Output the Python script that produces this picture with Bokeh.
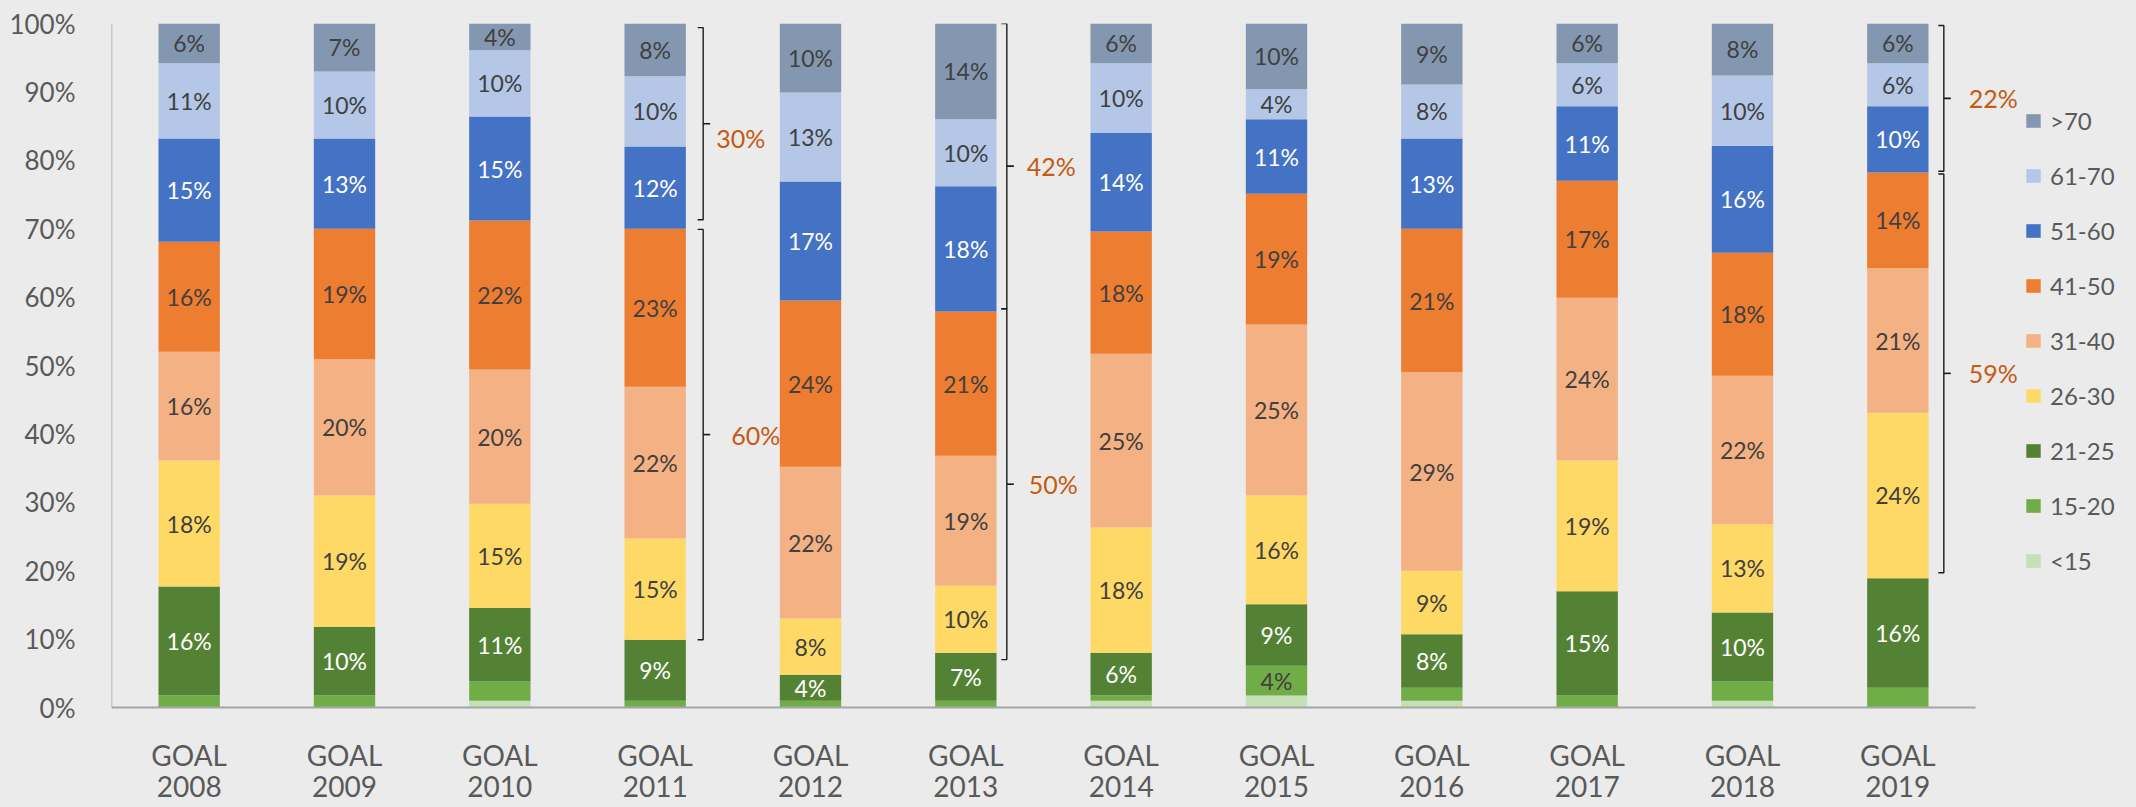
import numpy as np
from bokeh.plotting import figure
from bokeh.models import ColumnDataSource, FixedTicker, Legend, LegendItem, Range1d
from bokeh.embed import file_html
from bokeh.resources import INLINE
from bokeh.core.properties import value

# ---------------- data ----------------
years = ["2008", "2009", "2010", "2011", "2012", "2013",
         "2014", "2015", "2016", "2017", "2018", "2019"]
tick_prefix = "GOAL"
age_groups = ["<15", "15-20", "21-25", "26-30", "31-40", "41-50", "51-60", "61-70", ">70"]

share_lt15 = [0.0, 0.0, 1.0, 0.0, 0.0, 0.0, 1.0, 1.75, 1.0, 0.0, 1.0, 0.0]
share_15_20 = [1.8, 1.8, 2.8, 1.0, 1.0, 1.0, 0.8, 4.35, 1.9, 1.75, 2.8, 2.9]
share_21_25 = [15.9, 10.0, 10.8, 8.9, 3.8, 7.0, 6.2, 9.0, 7.8, 15.25, 10.1, 16.0]
share_26_30 = [18.4, 19.2, 15.2, 14.8, 8.2, 9.8, 18.3, 15.9, 9.3, 19.1, 12.9, 24.2]
share_31_40 = [15.9, 19.9, 19.6, 22.2, 22.2, 19.0, 25.4, 25.0, 29.0, 23.8, 21.7, 21.1]
share_41_50 = [16.1, 19.1, 21.8, 23.1, 24.3, 21.1, 17.9, 19.1, 21.0, 17.1, 18.0, 14.0]
share_51_60 = [15.1, 13.2, 15.2, 12.0, 17.4, 18.3, 14.4, 10.9, 13.2, 10.9, 15.6, 9.7]
share_61_70 = [11.0, 9.8, 9.7, 10.3, 13.0, 9.8, 10.2, 4.4, 7.9, 6.3, 10.3, 6.3]
share_gt70 = [5.8, 7.0, 3.9, 7.7, 10.1, 14.0, 5.8, 9.6, 8.9, 5.8, 7.6, 5.8]

series = [share_lt15, share_15_20, share_21_25, share_26_30, share_31_40,
          share_41_50, share_51_60, share_61_70, share_gt70]

y_ticks = list(range(0, 101, 10))

# bracket groups: (year, age groups covered)
brackets = [
    ("2011", ["26-30", "31-40", "41-50"]),
    ("2011", ["51-60", "61-70", ">70"]),
    ("2013", ["26-30", "31-40", "41-50"]),
    ("2013", ["51-60", "61-70", ">70"]),
    ("2019", ["26-30", "31-40", "41-50"]),
    ("2019", ["51-60", "61-70", ">70"]),
]

# ---------------- style ----------------
colors = ["#C5E0B4", "#70AD47", "#548235", "#FFD966", "#F4B183",
          "#ED7D31", "#4472C4", "#B4C7E7", "#8497B0"]
white_label_groups = {"21-25", "51-60"}
BG = "#EBEBEB"
FONT = "Lato"
TICK_COLOR = "#595959"
LABEL_DARK = "#404040"
BRACKET_LABEL_COLOR = "#C55A11"
AXIS_COLOR = "#A6A6A6"

W, H = 2136, 807
LEFT, RIGHT, TOP, BOTTOM = 111, 8, 23, 0
BARS_RIGHT = 1975      # px where the category area ends
ZERO_PX = 707          # px row of the 0% baseline
n = len(years)
BAND = (BARS_RIGHT - LEFT) / n
FRAME_W = W - LEFT - RIGHT
x_end = -0.5 + FRAME_W / BAND
PX_PER_PCT = (ZERO_PX - TOP) / 100.0
y_start = -(H - BOTTOM - ZERO_PX) / PX_PER_PCT
BAR_W = 0.395

# per-bracket styling: x offset of bracket line from bar centre (px), label dx (px), label dy (px),
# pad at bottom / top (in %-units)
bracket_style = [
    (48, 28, 0, 0.0, 0.1),
    (48, 13, 14, 1.3, 0.6),
    (41, 22, 0, -1.0, -0.4),
    (41, 20, 0, 0.4, 0.0),
    (46, 25, 0, 0.8, 0.2),
    (46, 25, 0, 0.2, 0.3),
]
SERIF = 5.5 / BAND
MID_TICK = 7.0 / BAND

# ---------------- figure ----------------
p = figure(width=W, height=H, x_range=Range1d(-0.5, x_end), y_range=Range1d(y_start, 100),
           output_backend="svg", toolbar_location=None,
           min_border_left=LEFT, min_border_right=RIGHT,
           min_border_top=TOP, min_border_bottom=BOTTOM)
p.background_fill_color = BG
p.border_fill_color = BG
p.outline_line_color = None
p.xgrid.visible = False
p.ygrid.visible = False

xs = list(range(n))
data = {"x": xs}
for g, s in zip(age_groups, series):
    data[g] = s
src = ColumnDataSource(data)
renderers = p.vbar_stack(age_groups, x="x", width=BAR_W, source=src,
                         color=colors, line_color=None)

# data labels
lx, ly, lt, lc = [], [], [], []
cum = np.zeros(n)
for g, s in zip(age_groups, series):
    arr = np.array(s)
    for i in range(n):
        v = arr[i]
        if v >= 3.5:
            lx.append(xs[i])
            ly.append(cum[i] + v / 2)
            lt.append(f"{round(v)}%")
            lc.append("#FFFFFF" if g in white_label_groups else LABEL_DARK)
    cum = cum + arr
p.text(x=lx, y=ly, text=lt, text_color=lc, text_font=value(FONT),
       text_font_size="23px", text_align="center", text_baseline="middle")

# brackets
bx_lines, by_lines = [], []
tx0, ty0, tx1, ty1 = [], [], [], []
bl_x, bl_y, bl_t, bl_dx, bl_dy = [], [], [], [], []
for (yr, grp), (xoff, ldx, ldy, pb, pt) in zip(brackets, bracket_style):
    i = years.index(yr)
    gi = [age_groups.index(g) for g in grp]
    bottom = sum(series[k][i] for k in range(min(gi)))
    top = bottom + sum(series[k][i] for k in gi)
    y0, y1 = bottom + pb, top - pt
    xb = xs[i] + xoff / BAND
    bx_lines.append([xb - SERIF, xb, xb, xb - SERIF])
    by_lines.append([y0, y0, y1, y1])
    ym = (y0 + y1) / 2
    tx0.append(xb); tx1.append(xb + MID_TICK); ty0.append(ym); ty1.append(ym)
    total = sum(round(series[k][i]) for k in gi)
    bl_x.append(xb); bl_y.append(ym); bl_t.append(f"{total}%")
    bl_dx.append(ldx); bl_dy.append(ldy)

p.multi_line(xs=bx_lines, ys=by_lines, line_color="#1A1A1A", line_width=1.4)
p.segment(x0=tx0, y0=ty0, x1=tx1, y1=ty1, line_color="#1A1A1A", line_width=1.6)
bsrc = ColumnDataSource(dict(x=bl_x, y=bl_y, t=bl_t, dx=bl_dx, dy=bl_dy))
p.text(x="x", y="y", text="t", x_offset="dx", y_offset="dy", source=bsrc,
       text_color=BRACKET_LABEL_COLOR, text_font=value(FONT), text_font_size="25px",
       text_align="left", text_baseline="middle")

# axis lines (x baseline only under the categories, y line from 0% to 100%)
p.segment(x0=[-0.5], y0=[0], x1=[n - 0.5], y1=[0], line_color=AXIS_COLOR, line_width=2)
p.segment(x0=[-0.5], y0=[0], x1=[-0.5], y1=[100], line_color=AXIS_COLOR, line_width=1.5)

# category labels (two lines) below the baseline
p.text(x=xs, y=[0] * n, text=[tick_prefix] * n, y_offset=47.5,
       text_color=TICK_COLOR, text_font=value(FONT), text_font_size="28px",
       text_align="center", text_baseline="alphabetic")
p.text(x=xs, y=[0] * n, text=years, y_offset=79,
       text_color=TICK_COLOR, text_font=value(FONT), text_font_size="28px",
       text_align="center", text_baseline="alphabetic")

# axes
p.xaxis.visible = False
ya = p.yaxis[0]
ya.ticker = FixedTicker(ticks=y_ticks)
ya.major_label_overrides = {t: f"{t}%" for t in y_ticks}
ya.axis_line_color = None
ya.major_tick_line_color = None
ya.minor_tick_line_color = None
ya.major_label_text_font = FONT
ya.major_label_text_font_size = "26px"
ya.major_label_text_color = TICK_COLOR
ya.major_label_standoff = 30

# legend
items = [LegendItem(label=g, renderers=[r]) for g, r in zip(age_groups, renderers)][::-1]
legend = Legend(items=items, location=(1913, 232), orientation="vertical",
                glyph_width=18, glyph_height=17, label_height=30, spacing=25,
                label_standoff=8, padding=0, margin=0,
                background_fill_alpha=0, border_line_color=None,
                label_text_font=FONT, label_text_font_size="24px",
                label_text_color=TICK_COLOR)
p.add_layout(legend)

html = file_html(p, INLINE)
html = html.replace("</head>", "<style>body{background-color:%s;}</style></head>" % BG, 1)
open("out.html", "w").write(html)
